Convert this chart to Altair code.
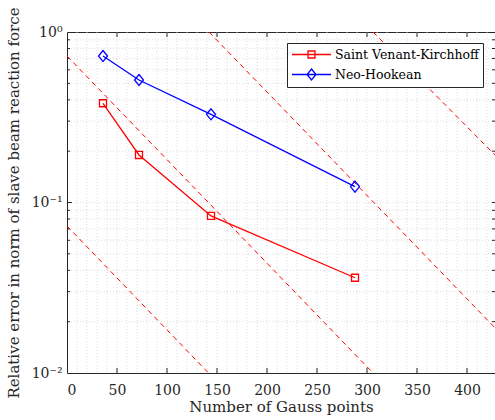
import altair as alt
import pandas as pd

# ---- data ----
gauss = [36, 72, 144, 288]
svk = [0.382, 0.190, 0.0834, 0.0362]
nh = [0.723, 0.523, 0.329, 0.124]
series_names = ["Saint Venant-Kirchhoff", "Neo-Hookean"]

# reference (dashed) lines: endpoints
ref_x0 = [0, 0, 142, 306]
ref_y0 = [0.723, 0.0728, 1.0, 1.0]
ref_x1 = [306, 141.5, 428, 428]
ref_y1 = [0.01, 0.01, 0.0184, 0.19]

x_ticks = [0, 50, 100, 150, 200, 250, 300, 350, 400]
x_grid = list(range(10, 430, 10))
y_ticks = [0.01, 0.1, 1]
y_grid = [0.02, 0.03, 0.04, 0.05, 0.06, 0.07, 0.08, 0.09, 0.1,
          0.2, 0.3, 0.4, 0.5, 0.6, 0.7, 0.8, 0.9]

W, H = 428, 341
FONT = "DejaVu Serif"
AX = "#262626"

df = pd.DataFrame({
    "n": gauss * 2,
    "err": svk + nh,
    "series": [series_names[0]] * 4 + [series_names[1]] * 4,
})
df_xg = pd.DataFrame({"n": x_grid})
df_yg = pd.DataFrame({"err": y_grid})
df_xt = pd.DataFrame({"n": x_ticks[1:]})
df_ytmaj = pd.DataFrame({"err": [0.1]})

xscale = alt.Scale(domain=[0, 428], nice=False, zero=False)
yscale = alt.Scale(type="log", domain=[0.01, 1], nice=False)

xaxis = alt.Axis(values=x_ticks, grid=False, ticks=False, domain=False,
                 labelFont=FONT, labelFontSize=14, labelColor=AX, labelPadding=10,
                 title="Number of Gauss points", titleFont=FONT, titleFontSize=15,
                 titleFontWeight="normal", titleColor=AX, titlePadding=2)
yaxis = alt.Axis(values=y_ticks, grid=False, ticks=False, domain=False,
                 labelFont=FONT, labelFontSize=14, labelColor=AX, labelPadding=5,
                 labelExpr="datum.value >= 0.5 ? '10⁰' : (datum.value >= 0.05 ? '10⁻¹' : '10⁻²')",
                 title="Relative error in norm of slave beam reaction force",
                 titleFont=FONT, titleFontSize=15, titleFontWeight="normal",
                 titleColor=AX, titlePadding=10)


def X(f="n"):
    return alt.X(f, type="quantitative", scale=xscale, axis=xaxis)


def Y(f="err"):
    return alt.Y(f, type="quantitative", scale=yscale, axis=yaxis)


color_scale = alt.Scale(domain=series_names, range=["#ff0000", "#0000ff"])
sq = "M-0.54,-0.54H0.54V0.54H-0.54Z"
dm = "M0,-0.85L0.69,0L0,0.85L-0.69,0Z"
shape_scale = alt.Scale(domain=series_names, range=[sq, dm])
leg_sq = "M-1,0H5M1.46,-0.54H2.54V0.54H1.46Z"
leg_dm = "M-1,0H5M2,-0.85L2.69,0L2,0.85L1.31,0Z"
leg_shape_scale = alt.Scale(domain=series_names, range=[leg_sq, leg_dm])

grid_style = dict(stroke="#d4d4d4", strokeDash=[1, 2], strokeWidth=0.8)

vgrid = alt.Chart(df_xg).mark_rule(**grid_style).encode(x=X())
hgrid = alt.Chart(df_yg).mark_rule(**grid_style).encode(y=Y())

tick_bot = alt.Chart(df_xt).mark_rule(stroke=AX, strokeWidth=1).encode(
    x=X(), y=alt.value(H), y2=alt.value(H - 5))
tick_top = alt.Chart(df_xt).mark_rule(stroke=AX, strokeWidth=1).encode(
    x=X(), y=alt.value(0), y2=alt.value(5))
tick_left_min = alt.Chart(df_yg).mark_rule(stroke=AX, strokeWidth=1).encode(
    y=Y(), x=alt.value(0), x2=alt.value(3))
tick_left_maj = alt.Chart(df_ytmaj).mark_rule(stroke=AX, strokeWidth=1).encode(
    y=Y(), x=alt.value(0), x2=alt.value(5))
tick_right_min = alt.Chart(df_yg).mark_rule(stroke=AX, strokeWidth=1).encode(
    y=Y(), x=alt.value(W), x2=alt.value(W - 3))

ref_layers = []
for a, b, c, d in zip(ref_x0, ref_y0, ref_x1, ref_y1):
    dref = pd.DataFrame({"n": [a, c], "err": [b, d]})
    ref_layers.append(
        alt.Chart(dref).mark_line(stroke="#ff0000", strokeDash=[5, 4], strokeWidth=1)
        .encode(x=X(), y=Y())
    )

lines = alt.Chart(df).mark_line(strokeWidth=1.3).encode(
    x=X(), y=Y(),
    color=alt.Color("series:N", scale=color_scale, legend=None),
)
points = alt.Chart(df).mark_point(filled=False, size=169, strokeWidth=1.3, opacity=1).encode(
    x=X(), y=Y(),
    color=alt.Color("series:N", scale=color_scale, legend=None),
    shape=alt.Shape("series:N", scale=shape_scale, legend=None),
)
legend_layer = alt.Chart(df).transform_filter("false").mark_point(
    filled=False, strokeWidth=1.3
).encode(
    x=X(), y=Y(),
    color=alt.Color("series:N", scale=color_scale,
                    legend=alt.Legend(title=None)),
    shape=alt.Shape("series:N", scale=leg_shape_scale,
                    legend=alt.Legend(title=None)),
)

chart = alt.layer(
    vgrid, hgrid, tick_bot, tick_top, tick_left_min, tick_left_maj, tick_right_min,
    *ref_layers, lines, points, legend_layer
).resolve_scale(
    color="independent", shape="independent"
).properties(
    width=W, height=H,
    autosize=alt.AutoSizeParams(type="none"),
    padding={"left": 67, "top": 32, "right": 0, "bottom": 47},
    background="white",
).configure(
    font=FONT
).configure_view(
    stroke=AX, strokeWidth=1
).configure_legend(
    orient="none", legendX=220, legendY=11, padding=4,
    strokeColor=AX, fillColor="white", cornerRadius=0,
    symbolSize=169, symbolStrokeWidth=1.3, symbolOpacity=1,
    labelFont=FONT, labelFontSize=12.5, labelColor="black", labelOffset=29,
    labelBaseline="middle", rowPadding=5, labelLimit=0,
)

chart.save("out.html", embed_options={"renderer": "svg", "actions": False})
